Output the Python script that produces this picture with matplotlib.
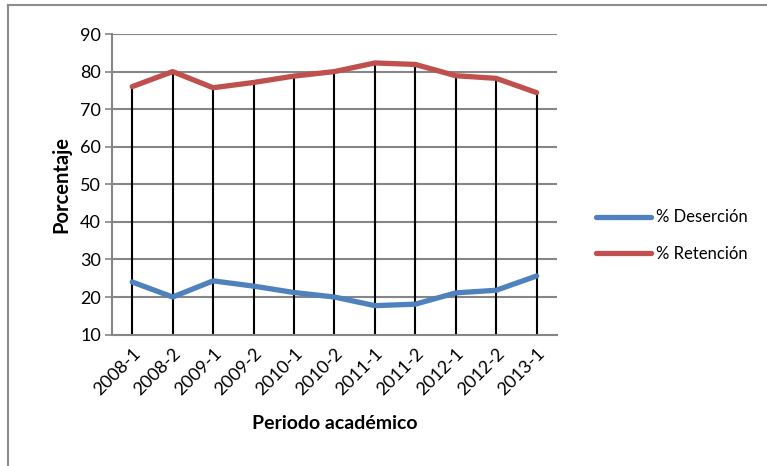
import matplotlib.pyplot as plt
from matplotlib.lines import Line2D
import numpy as np

periodos = ["2008-1", "2008-2", "2009-1", "2009-2", "2010-1", "2010-2",
            "2011-1", "2011-2", "2012-1", "2012-2", "2013-1"]
desercion = [24.0, 20.0, 24.3, 22.9, 21.2, 20.0, 17.7, 18.1, 21.1, 21.8, 25.6]
retencion = [76.0, 80.0, 75.7, 77.1, 78.8, 80.0, 82.3, 81.9, 78.9, 78.2, 74.4]
y_ticks = [10, 20, 30, 40, 50, 60, 70, 80, 90]

plt.rcParams['font.family'] = ['Lato', 'DejaVu Sans']

fig = plt.figure(figsize=(7.67, 4.66), dpi=100)
ax = fig.add_axes([0.146, 0.282, 0.58, 0.645])

x = np.arange(len(periodos))
grid_col = "#868686"

for t in y_ticks[1:]:
    ax.axhline(t, color=grid_col, lw=1.5, zorder=1)

# drop lines from highest series to the axis
ax.vlines(x, y_ticks[0], retencion, color="black", lw=1.5, zorder=2)

ax.plot(x, desercion, color="#4F81BD", lw=3.8, solid_capstyle="round",
        label="% Deserción", zorder=3)
ax.plot(x, retencion, color="#C0504D", lw=3.8, solid_capstyle="round",
        label="% Retención", zorder=3)

ax.set_xlim(-0.5, len(periodos) - 0.5)
ax.set_ylim(10, 90)
ax.set_yticks(y_ticks)
ax.set_xticks(x)
ax.set_xticklabels(periodos, rotation=45, ha="right", rotation_mode="anchor")
ax.tick_params(axis="y", length=5, color=grid_col, width=1.2, labelsize=13, pad=3)
ax.tick_params(axis="x", length=0, labelsize=13, pad=8)

for s in ["top", "right"]:
    ax.spines[s].set_visible(False)
ax.spines["left"].set_color(grid_col)
ax.spines["bottom"].set_color(grid_col)
ax.spines["left"].set_linewidth(1.5)
ax.spines["bottom"].set_linewidth(1.5)

ax.set_ylabel("Porcentaje", fontsize=14.5, fontweight="bold", labelpad=6)
ax.set_xlabel("Periodo académico", fontsize=14, fontweight="bold", labelpad=12)

leg = fig.legend(loc="center left", bbox_to_anchor=(0.757, 0.494), frameon=False,
                 fontsize=12, handlelength=3.35, handletextpad=0.3, labelspacing=1.25)

# outer chart border (partly cropped)
fig.add_artist(Line2D([8 / 767, 8 / 767], [0, 1 - 5 / 466], transform=fig.transFigure,
                      color="#8c8c8c", lw=1.5))
fig.add_artist(Line2D([8 / 767, 1], [1 - 5 / 466, 1 - 5 / 466], transform=fig.transFigure,
                      color="#8c8c8c", lw=1.5))

plt.savefig("out.png", dpi=100)
